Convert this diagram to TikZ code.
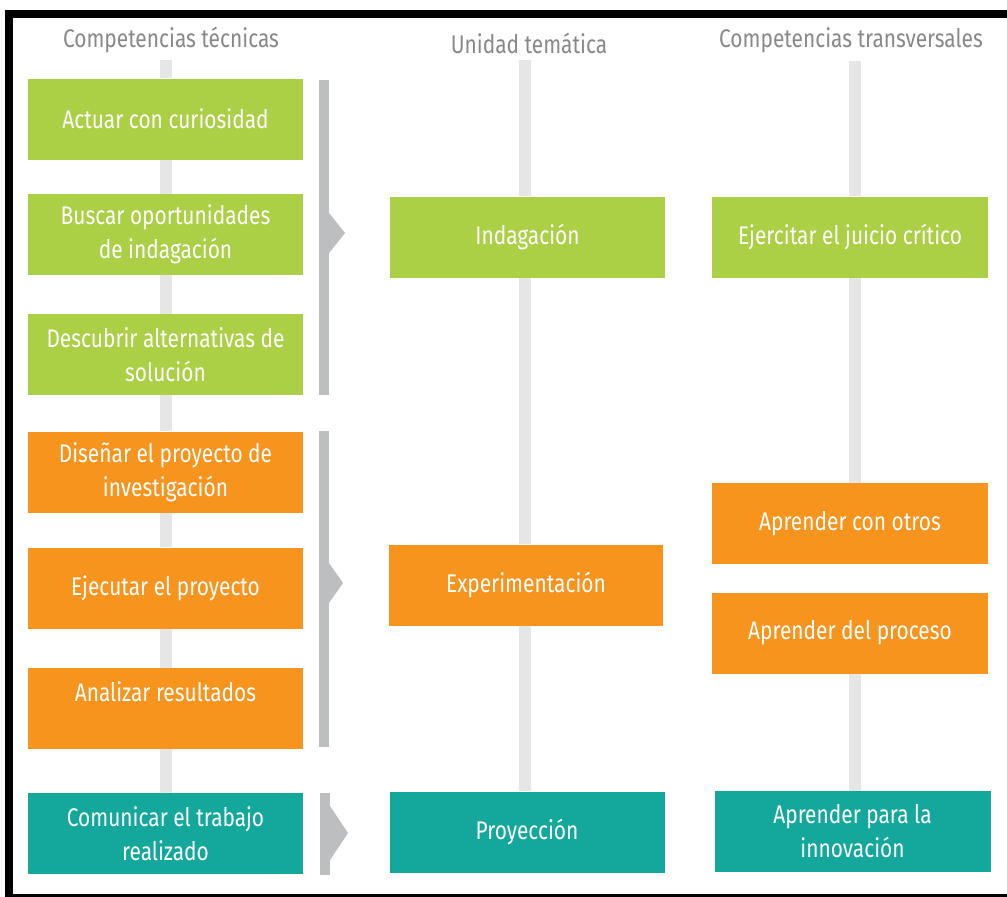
\documentclass[tikz,border=0pt]{standalone}
\usepackage{fontspec}
\setmainfont[FakeStretch=0.82]{Fira Sans}
\definecolor{cgreen}{HTML}{ABD046}
\definecolor{corange}{HTML}{F7941E}
\definecolor{cteal}{HTML}{14A89C}
\definecolor{cbar}{HTML}{BCBEC0}
\definecolor{cline}{HTML}{E6E6E6}
\definecolor{chead}{HTML}{888888}
\begin{document}
\begin{tikzpicture}[x=1pt,y=-1pt,
  box/.style={minimum width=275pt, minimum height=81pt, inner sep=0pt, text=white, align=center, font=\fontsize{25.5}{34}\selectfont},
  gbox/.style={box, fill=cgreen},
  obox/.style={box, fill=corange},
  tbox/.style={box, fill=cteal},
  head/.style={text=chead, inner sep=0pt, font=\fontsize{25.5}{28}\selectfont},
  vline/.style={cline, line width=12pt},
  bar/.style={fill=cbar}]
\useasboundingbox (0,0) rectangle (1007,897);
\clip (0,0) rectangle (1007,897);
\fill[white] (0,0) rectangle (1007,897);
% headers
\node[head] (h1) at (171,40) {Competencias técnicas};
\node[head] (h2) at (529,43) {Unidad temática};
\node[head] (h3) at (851,40) {Competencias transversales};
% coordinates for lines
\coordinate (l1a) at (166,60);
\coordinate (l2a) at (525,60);
\coordinate (l3a) at (855,61);
% boxes
\node[gbox] (c1) at (165.5,119) {Actuar con curiosidad};
\node[gbox] (c2) at (165.5,234.5) {Buscar oportunidades\\de indagación};
\node[gbox] (c3) at (165.5,354.5) {Descubrir alternativas de\\solución};
\node[obox] (c4) at (165.5,472) {Diseñar el proyecto de\\investigación};
\node[obox] (c5) at (165.5,588) {Ejecutar el proyecto};
\node[obox] (c6) at (165.5,708.5) {Analizar resultados\\\mbox{}};
\node[tbox] (c7) at (165.5,833.5) {Comunicar el trabajo\\realizado};
\node[gbox] (u1) at (527.5,237) {Indagación};
\node[obox, minimum width=274pt] (u2) at (526,585) {Experimentación};
\node[tbox] (u3) at (527,832) {Proyección};
\node[gbox, minimum width=276pt] (t1) at (850,237) {Ejercitar el juicio crítico};
\node[obox, minimum width=276pt] (t2) at (850,523.5) {Aprender con otros};
\node[obox, minimum width=276pt] (t3) at (850,633) {Aprender del proceso};
\node[tbox, minimum width=276pt] (t4) at (852.5,831.5) {Aprender para la\\innovación};
% vertical lines between boxes
\draw[vline] (l1a) -- (l1a |- c1.north);
\draw[vline] (c1.south -| l1a) -- (c2.north -| l1a);
\draw[vline] (c2.south -| l1a) -- (c3.north -| l1a);
\draw[vline] (c3.south -| l1a) -- (c4.north -| l1a);
\draw[vline] (c4.south -| l1a) -- (c5.north -| l1a);
\draw[vline] (c5.south -| l1a) -- (c6.north -| l1a);
\draw[vline] (c6.south -| l1a) -- (c7.north -| l1a);
\draw[vline] (l2a) -- (l2a |- u1.north);
\draw[vline] (u1.south -| l2a) -- (u2.north -| l2a);
\draw[vline] (u2.south -| l2a) -- (u3.north -| l2a);
\draw[vline] (l3a) -- (l3a |- t1.north);
\draw[vline] (t1.south -| l3a) -- (t2.north -| l3a);
\draw[vline] (t3.south -| l3a) -- (t4.north -| l3a);
% brackets
\fill[cbar] (319,80) rectangle (329,395);
\fill[cbar] (329,213) -- (345,233) -- (329,253) -- cycle;
\fill[cbar] (319,431) rectangle (329,747);
\fill[cbar] (329,563) -- (343,583) -- (329,603) -- cycle;
\fill[cbar] (320,793) rectangle (330,875);
\fill[cbar] (330,806) -- (348,833) -- (330,860) -- cycle;
% frame
\draw[line width=8pt] (9,14) rectangle (1030,898);
\end{tikzpicture}
\end{document}
